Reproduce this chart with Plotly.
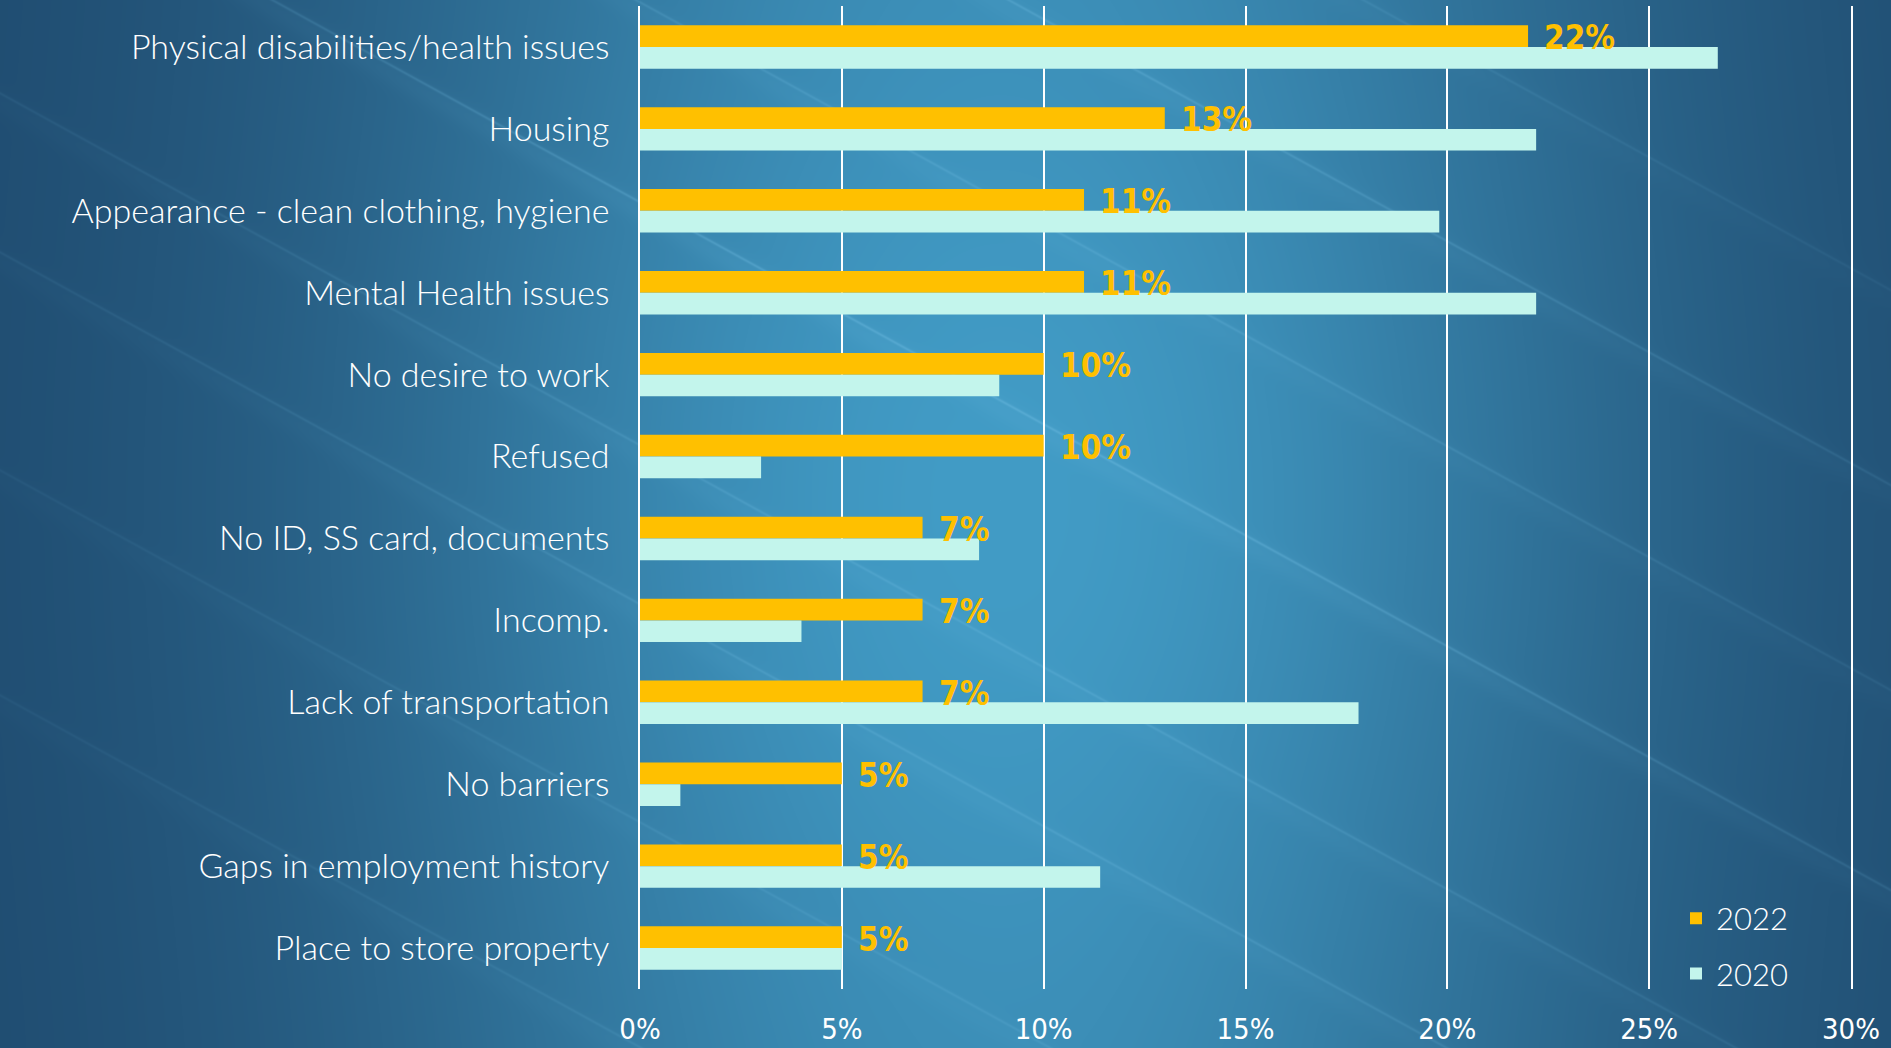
import base64
import struct
import zlib

import numpy as np
import plotly.graph_objects as go

# ---- data -------------------------------------------------------------
categories = [
    "Physical disabilities/health issues",
    "Housing",
    "Appearance - clean clothing, hygiene",
    "Mental Health issues",
    "No desire to work",
    "Refused",
    "No ID, SS card, documents",
    "Incomp.",
    "Lack of transportation",
    "No barriers",
    "Gaps in employment history",
    "Place to store property",
]
share_2022 = [22, 13, 11, 11, 10, 10, 7, 7, 7, 5, 5, 5]
share_2020 = [26.7, 22.2, 19.8, 22.2, 8.9, 3.0, 8.4, 4.0, 17.8, 1.0, 11.4, 5.0]
x_tick_values = [0, 5, 10, 15, 20, 25, 30]
x_tick_labels = ["0%", "5%", "10%", "15%", "20%", "25%", "30%"]
series_names = ["2022", "2020"]

# ---- canvas geometry --------------------------------------------------
W, H = 1891, 1048
M_L, M_R, M_T, M_B = 640, 40, 6, 59
PW, PH = W - M_L - M_R, H - M_T - M_B

COLOR_2022 = "#FFC000"
COLOR_2020 = "#C3F5EC"
LABEL_FONT = "Lato, 'Open Sans', sans-serif"
NARROW_FONT = "'Liberation Sans Narrow', 'DejaVu Sans Condensed', 'Arial Narrow', sans-serif"


def png_data_uri(rgb):
    """Encode an HxWx3 uint8 array as a PNG data URI."""
    h, w, _ = rgb.shape
    raw = np.concatenate(
        [np.zeros((h, 1), np.uint8), rgb.reshape(h, w * 3)], axis=1
    ).tobytes()

    def chunk(tag, data):
        return (struct.pack(">I", len(data)) + tag + data
                + struct.pack(">I", zlib.crc32(tag + data) & 0xFFFFFFFF))

    png = (b"\x89PNG\r\n\x1a\n"
           + chunk(b"IHDR", struct.pack(">IIBBBBB", w, h, 8, 2, 0, 0, 0))
           + chunk(b"IDAT", zlib.compress(raw, 6))
           + chunk(b"IEND", b""))
    return "data:image/png;base64," + base64.b64encode(png).decode()


def slide_background():
    """Blue slide backdrop: soft central glow with thin diagonal light streaks."""
    yy, xx = np.mgrid[0:H, 0:W].astype(float)
    glow = np.exp(-((xx - 1000) / 640) ** 2) * (0.8 + 0.2 * np.exp(-((yy - 500) / 450) ** 2))
    dark = np.array([30, 72, 108], float)
    light = np.array([66, 156, 198], float)
    img = dark + glow[..., None] * (light - dark)

    slope = 0.55
    norm = np.sqrt(1 + slope ** 2)
    streak_color = np.array([120, 195, 232], float)
    for offset, strength in [(-750, 0.15), (-555, 0.25), (-350, 0.2), (-150, 0.3),
                             (93, 0.2), (252, 0.2), (470, 0.15), (695, 0.15)]:
        d = (yy - (offset + slope * xx)) / norm
        a = strength * np.exp(-(d / 1.4) ** 2) + 0.3 * strength * np.exp(-((d - 8) / 12) ** 2)
        # streaks fade toward the dark left edge
        a = np.clip(a * (0.3 + 0.7 * glow), 0, 1)[..., None]
        img = img * (1 - a) + streak_color * a
    return np.clip(img, 0, 255).astype(np.uint8)


fig = go.Figure()
fig.add_trace(go.Bar(
    name=series_names[0], y=categories, x=share_2022, orientation="h",
    marker=dict(color=COLOR_2022, line=dict(width=0)), legendgroup="a",
))
fig.add_trace(go.Bar(
    name=series_names[1], y=categories, x=share_2020, orientation="h",
    marker=dict(color=COLOR_2020, line=dict(width=0)), legendgroup="b",
))

# value labels on the 2022 bars
for cat, v in zip(categories, share_2022):
    fig.add_annotation(
        x=v, y=cat, text=f"{v:.0f}%", showarrow=False,
        xanchor="left", yanchor="middle", xshift=14, yshift=9,
        font=dict(family=NARROW_FONT, size=33, color=COLOR_2022, weight="bold"),
    )

fig.add_layout_image(
    source=png_data_uri(slide_background()),
    xref="paper", yref="paper",
    x=-M_L / PW, y=1 + M_T / PH,
    sizex=W / PW, sizey=H / PH,
    xanchor="left", yanchor="top",
    sizing="stretch", layer="below",
)

fig.update_layout(
    width=W, height=H,
    margin=dict(l=M_L, r=M_R, t=M_T, b=M_B, autoexpand=False),
    paper_bgcolor="#1f4b6e",
    plot_bgcolor="rgba(0,0,0,0)",
    barmode="group", bargap=0.47, bargroupgap=0,
    showlegend=True,
    legend=dict(
        x=(1676 - M_L) / PW, xanchor="left",
        y=1 - (946 - M_T) / PH, yanchor="middle",
        traceorder="grouped", tracegroupgap=12, itemwidth=30,
        bgcolor="rgba(0,0,0,0)",
        font=dict(family=LABEL_FONT, size=31, color="white", weight=300),
    ),
    xaxis=dict(
        range=[0, 30], tickvals=x_tick_values, ticktext=x_tick_labels,
        showgrid=True, gridcolor="white", gridwidth=1.6,
        zeroline=False, showline=False,
        ticks="outside", ticklen=14, tickcolor="rgba(0,0,0,0)",
        tickfont=dict(family=NARROW_FONT, size=29, color="white"),
        automargin=False, fixedrange=True,
    ),
    yaxis=dict(
        autorange="reversed", showgrid=False, zeroline=False,
        showline=True, mirror=True, linecolor="white", linewidth=1.6,
        ticks="outside", ticklen=22, tickcolor="rgba(0,0,0,0)",
        tickfont=dict(family=LABEL_FONT, size=34, color="white", weight=300),
        automargin=False, fixedrange=True,
    ),
)

fig.write_html("out.html", config={"displayModeBar": False})
